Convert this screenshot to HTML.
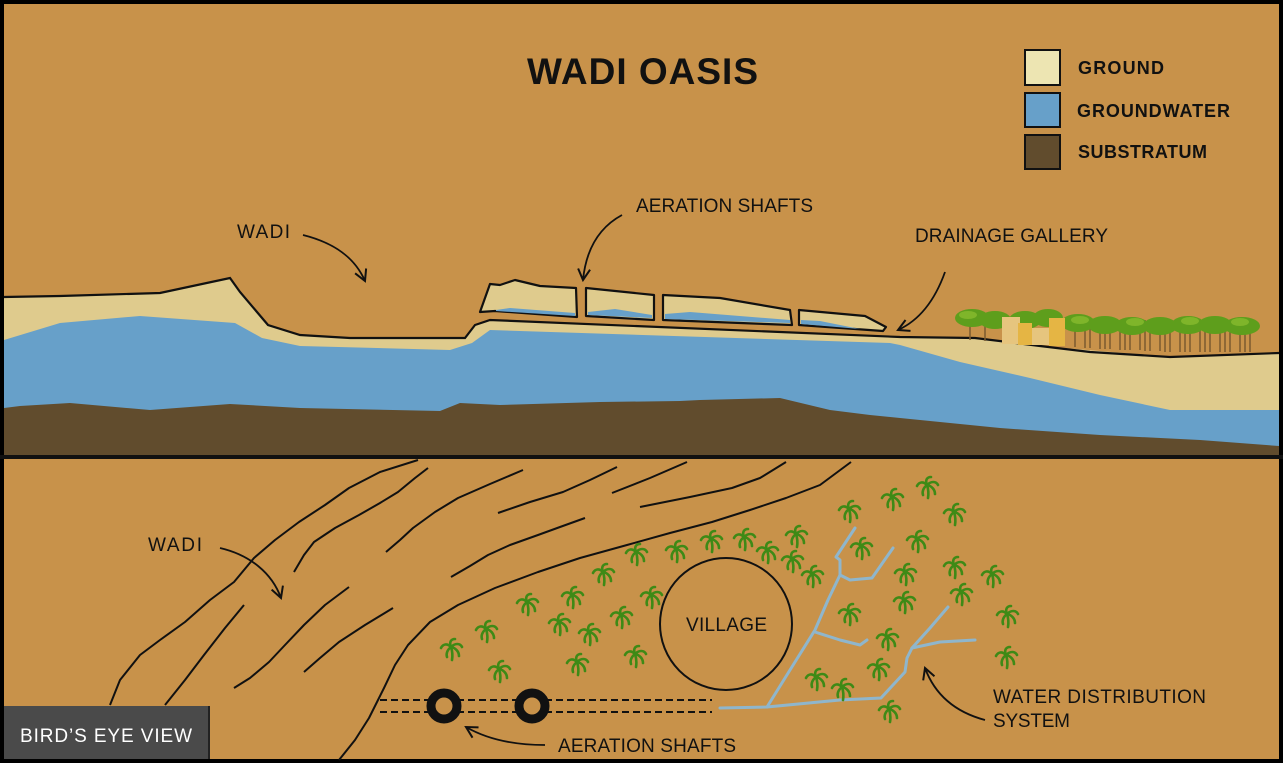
<!DOCTYPE html>
<html><head><meta charset="utf-8"><style>
html,body{margin:0;padding:0;background:#000}
svg{display:block}
text{font-family:"Liberation Sans",sans-serif;fill:#111}
</style></head><body>
<svg width="1283" height="763" viewBox="0 0 1283 763" xmlns="http://www.w3.org/2000/svg">
<defs>
<marker id="ah" viewBox="0 0 14 14" refX="12" refY="7" markerWidth="14" markerHeight="14" orient="auto" markerUnits="userSpaceOnUse">
<path d="M1,1 L12,7 L1,13" fill="none" stroke="#111" stroke-width="2"/>
</marker>
<symbol id="p" viewBox="-12 -12 24 24" overflow="visible">
<g fill="none" stroke="#3e8a16" stroke-width="2.6" stroke-linecap="round">
<path d="M0,10 C1,4 0,0 -1,-3"/>
<path d="M-1,-3 C-5,-7 -9,-6 -11,-2"/>
<path d="M-1,-3 C-3,-8 -1,-11 3,-11"/>
<path d="M-1,-3 C3,-7 8,-7 10,-3"/>
<path d="M-1,-3 C4,-2 7,2 7,6"/>
<path d="M-1,-3 C-5,0 -6,4 -5,7"/>
</g>
</symbol>
</defs>
<rect x="0" y="0" width="1283" height="763" fill="#000"/>
<rect x="4" y="4" width="1275" height="755" fill="#C8924A"/>

<path d="M4,297 L60,296 L160,293 L230,278 L240,292 L268,325 L300,335 L350,338 L465,338 L475,325 L490,320 L900,337 L975,338 L1040,346 L1170,357 L1279,353 L1279,457 L4,457 Z" fill="#DFCB8D"/>
<path d="M4,340 L60,323 L140,316 L235,323 L262,338 L300,346 L450,350 L472,343 L490,330 L890,343 L900,345 L960,362 L1030,378 L1100,395 L1170,410 L1279,410 L1279,457 L4,457 Z" fill="#67A0C9"/>
<path d="M4,408 L20,406 L70,403 L150,410 L230,404 L300,408 L440,411 L460,403 L500,405 L600,402 L680,401 L700,400 L780,398 L830,410 L870,415 L900,418 L1000,428 L1100,435 L1200,440 L1279,446 L1279,457 L4,457 Z" fill="#614C2D"/>
<path d="M4,297 L60,296 L160,293 L230,278 L240,292 L268,325 L300,335 L350,338 L465,338 L475,325 L490,320 L900,337 L975,338 L1040,346 L1090,352 L1170,357 L1279,353" fill="none" stroke="#111" stroke-width="2.2"/>
<g fill="#DFCB8D" stroke="#111" stroke-width="2.2" stroke-linejoin="round">
<path d="M490,284 L500,285 L515,280 L540,286 L576,288 L577,317 L495,311 L480,312 Z"/>
<path d="M586,288 L654,295 L654,320 L586,316 Z"/>
<path d="M663,295 L720,298 L790,310 L792,325 L663,320 Z"/>
<path d="M799,310 L865,316 L886,327 L883,331 L799,325 Z"/>
</g>
<g fill="#67A0C9">
<path d="M496,310 L510,308 L575,313 L575,316 L496,311 Z"/>
<path d="M588,312 L615,309 L652,315 L652,318 L588,315 Z"/>
<path d="M665,314 L690,312 L790,320 L790,323 L665,319 Z"/>
<path d="M801,320 L820,321 L860,329 L801,324 Z"/>
</g>
<g>
<g stroke="#7a5a30" stroke-width="1.5">
<path d="M970,312 V340 M985,315 V341 M1075,320 V347 M1090,322 V348 M1100,322 V349 M1110,322 V349 M1120,322 V350 M1130,322 V350 M1140,322 V350 M1150,322 V351 M1160,322 V351 M1170,322 V352 M1180,322 V352 M1190,322 V352 M1200,322 V352 M1210,322 V352 M1220,322 V352 M1230,322 V352 M1240,322 V352 M1250,322 V352 M1085,320 V348 M1105,320 V349 M1125,320 V350 M1145,320 V351 M1165,320 V352 M1185,320 V352 M1205,320 V352 M1225,320 V352 M1245,320 V352"/>
</g>
<g fill="#5E9E1C">
<ellipse cx="972" cy="318" rx="17" ry="9"/><ellipse cx="995" cy="320" rx="16" ry="9"/><ellipse cx="1025" cy="320" rx="16" ry="9"/><ellipse cx="1048" cy="318" rx="15" ry="9"/>
<ellipse cx="1078" cy="323" rx="17" ry="9"/><ellipse cx="1105" cy="325" rx="17" ry="9"/><ellipse cx="1132" cy="326" rx="17" ry="9"/><ellipse cx="1160" cy="326" rx="17" ry="9"/><ellipse cx="1188" cy="325" rx="17" ry="9"/><ellipse cx="1215" cy="325" rx="17" ry="9"/><ellipse cx="1242" cy="326" rx="18" ry="9"/>
</g>
<g fill="#7FB52A">
<ellipse cx="968" cy="315" rx="9" ry="4"/><ellipse cx="1080" cy="320" rx="9" ry="4"/><ellipse cx="1135" cy="322" rx="9" ry="4"/><ellipse cx="1190" cy="321" rx="9" ry="4"/><ellipse cx="1240" cy="322" rx="9" ry="4"/>
</g>
<rect x="1002" y="317" width="18" height="27" fill="#E6C57E"/>
<rect x="1018" y="323" width="14" height="22" fill="#E5B544"/>
<rect x="1032" y="328" width="18" height="17" fill="#E6C57E"/>
<rect x="1049" y="318" width="16" height="28" fill="#E5B544"/>
</g>

<rect x="0" y="455" width="1283" height="4" fill="#111"/>

<rect x="1025" y="50" width="35" height="35" fill="#EDE5B2" stroke="#111" stroke-width="2"/>
<rect x="1025" y="93" width="35" height="34" fill="#67A0C9" stroke="#111" stroke-width="2"/>
<rect x="1025" y="135" width="35" height="34" fill="#614C2D" stroke="#111" stroke-width="2"/>
<text x="1078" y="74" font-size="18" font-weight="bold" textLength="86">GROUND</text>
<text x="1077" y="117" font-size="18" font-weight="bold" textLength="153">GROUNDWATER</text>
<text x="1078" y="158" font-size="18" font-weight="bold" textLength="129">SUBSTRATUM</text>
<text x="527" y="84" font-size="37" font-weight="bold" textLength="231">WADI OASIS</text>

<text x="237" y="238" font-size="19" textLength="53">WADI</text>
<text x="636" y="212" font-size="19" textLength="177">AERATION SHAFTS</text>
<text x="915" y="242" font-size="19" textLength="193">DRAINAGE GALLERY</text>
<g fill="none" stroke="#111" stroke-width="1.8" marker-end="url(#ah)">
<path d="M303,235 C335,243 355,258 365,281"/>
<path d="M622,215 C598,228 586,250 583,280"/>
<path d="M945,272 C935,300 920,320 898,330"/>
<path d="M545,745 C510,745 485,738 466,727"/>
<path d="M985,720 C955,712 935,695 925,668"/>
<path d="M220,548 C250,555 272,573 281,598"/>
</g>

<g fill="none" stroke="#111" stroke-width="2" stroke-linejoin="round">
<path d="M110,705 L120,680 L140,655 L160,640 L185,622 L210,600 L234,582 L254,558 L275,540 L299,522 L325,505 L349,488 L380,472 L418,460"/>
<path d="M165,705 L185,680 L204,655 L225,628 L244,605"/>
<path d="M294,572 L304,555 L314,542 L335,528 L359,515 L380,503 L398,492 L415,478 L428,468"/>
<path d="M234,688 L250,678 L269,662 L285,645 L304,625 L325,605 L349,587"/>
<path d="M304,672 L320,658 L339,642 L365,625 L393,608"/>
<path d="M386,552 L400,540 L413,528 L435,512 L458,498 L490,484 L523,470"/>
<path d="M451,577 L470,566 L488,555 L510,545 L538,535 L560,527 L585,518"/>
<path d="M339,760 L355,740 L369,718 L378,700 L384,688 L395,665 L408,645 L430,622 L458,605 L495,588 L538,572 L580,558 L627,545 L670,533 L712,522 L750,510 L786,498 L820,485 L851,462"/>
<path d="M498,513 L530,502 L563,492 L590,480 L617,467"/>
<path d="M612,493 L650,478 L687,462"/>
<path d="M640,507 L690,497 L732,488 L760,478 L786,462"/>
</g>

<g fill="none" stroke="#8FB6CC" stroke-width="3" stroke-linejoin="round" stroke-linecap="round">
<path d="M720,708 L767,707 L840,700 L881,698 L905,672 L907,658 L912,648 L930,628 L948,607"/>
<path d="M912,648 L940,642 L975,640"/>
<path d="M767,707 L790,670 L815,630 L828,600 L840,575 L840,560 L836,557 L855,528"/>
<path d="M840,575 L850,580 L872,578 L893,548"/>
<path d="M815,632 L840,640 L860,645 L867,640"/>
</g>

<g>
<use href="#p" x="440" y="638" width="24" height="24"/>
<use href="#p" x="475" y="620" width="24" height="24"/>
<use href="#p" x="488" y="660" width="24" height="24"/>
<use href="#p" x="516" y="593" width="24" height="24"/>
<use href="#p" x="548" y="613" width="24" height="24"/>
<use href="#p" x="561" y="586" width="24" height="24"/>
<use href="#p" x="566" y="653" width="24" height="24"/>
<use href="#p" x="578" y="623" width="24" height="24"/>
<use href="#p" x="592" y="563" width="24" height="24"/>
<use href="#p" x="610" y="606" width="24" height="24"/>
<use href="#p" x="625" y="543" width="24" height="24"/>
<use href="#p" x="624" y="645" width="24" height="24"/>
<use href="#p" x="640" y="586" width="24" height="24"/>
<use href="#p" x="665" y="540" width="24" height="24"/>
<use href="#p" x="700" y="530" width="24" height="24"/>
<use href="#p" x="733" y="528" width="24" height="24"/>
<use href="#p" x="756" y="541" width="24" height="24"/>
<use href="#p" x="785" y="525" width="24" height="24"/>
<use href="#p" x="781" y="550" width="24" height="24"/>
<use href="#p" x="801" y="565" width="24" height="24"/>
<use href="#p" x="838" y="500" width="24" height="24"/>
<use href="#p" x="850" y="537" width="24" height="24"/>
<use href="#p" x="881" y="488" width="24" height="24"/>
<use href="#p" x="916" y="476" width="24" height="24"/>
<use href="#p" x="943" y="503" width="24" height="24"/>
<use href="#p" x="906" y="530" width="24" height="24"/>
<use href="#p" x="894" y="563" width="24" height="24"/>
<use href="#p" x="893" y="591" width="24" height="24"/>
<use href="#p" x="943" y="556" width="24" height="24"/>
<use href="#p" x="981" y="565" width="24" height="24"/>
<use href="#p" x="950" y="583" width="24" height="24"/>
<use href="#p" x="838" y="603" width="24" height="24"/>
<use href="#p" x="876" y="628" width="24" height="24"/>
<use href="#p" x="996" y="605" width="24" height="24"/>
<use href="#p" x="995" y="646" width="24" height="24"/>
<use href="#p" x="805" y="668" width="24" height="24"/>
<use href="#p" x="831" y="678" width="24" height="24"/>
<use href="#p" x="867" y="658" width="24" height="24"/>
<use href="#p" x="878" y="700" width="24" height="24"/>
</g>

<circle cx="726" cy="624" r="66" fill="none" stroke="#111" stroke-width="2"/>
<text x="686" y="631" font-size="19" textLength="81">VILLAGE</text>

<g stroke="#111" stroke-width="2" stroke-dasharray="7,4" fill="none">
<path d="M380,700 H712"/><path d="M380,712 H712"/>
</g>
<circle cx="444" cy="706" r="13" fill="#C8924A" stroke="#111" stroke-width="9"/>
<circle cx="532" cy="706" r="13" fill="#C8924A" stroke="#111" stroke-width="9"/>
<text x="558" y="752" font-size="19" textLength="178">AERATION SHAFTS</text>

<text x="148" y="551" font-size="19" textLength="54">WADI</text>
<text x="993" y="703" font-size="19" textLength="213">WATER DISTRIBUTION</text>
<text x="993" y="727" font-size="19" textLength="77">SYSTEM</text>

<rect x="4" y="706" width="206" height="53" fill="#4A4A4A"/>
<rect x="208" y="706" width="2" height="53" fill="#222"/>
<text x="20" y="742" font-size="19" textLength="172" style="fill:#fff">BIRD’S EYE VIEW</text>
</svg>
</body></html>
